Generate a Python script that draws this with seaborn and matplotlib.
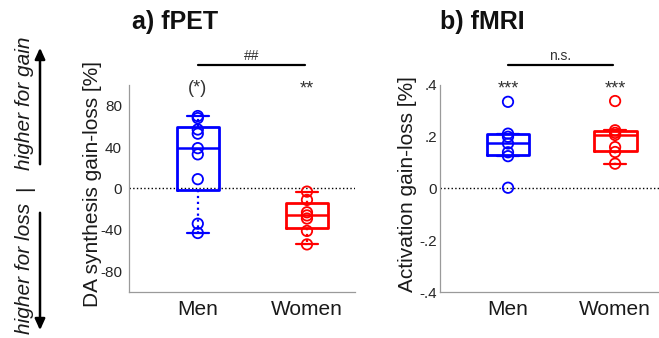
import numpy as np
import pandas as pd
import matplotlib
matplotlib.use("Agg")
import matplotlib.pyplot as plt
import matplotlib.transforms as mtrans
import seaborn as sns

# ---------------- data ----------------
groups = ["Men", "Women"]
colors = ["#0000ff", "#ff0000"]
fpet_men = [70, 68, 57, 53, 39, 33, 9, -34, -43]
fpet_women = [-3, -11, -23, -26, -29, -41, -54]
fmri_men = [0.335, 0.212, 0.200, 0.174, 0.140, 0.125, 0.003]
fmri_women = [0.338, 0.225, 0.215, 0.207, 0.160, 0.141, 0.096]
fpet_stars = ["(*)", "**"]
fmri_stars = ["***", "***"]
fpet_between = "##"
fmri_between = "n.s."
fpet_ticks = list(range(-100, 101, 20))
fpet_ticklabels = ["" if t % 40 or abs(t) == 100 else str(t) for t in fpet_ticks]
fmri_ticks = [-0.4, -0.3, -0.2, -0.1, 0.0, 0.1, 0.2, 0.3, 0.4]
fmri_ticklabels = ["-.4", "", "-.2", "", "0", "", ".2", "", ".4"]

sns.set_style("white")
plt.rcParams["font.family"] = ["Liberation Sans", "DejaVu Sans"]

W, H = 659, 338
fig = plt.figure(figsize=(W / 100, H / 100), dpi=100)


def mprct(x, p):
    x = np.sort(np.asarray(x, float))
    n = len(x)
    pos = (np.arange(1, n + 1) - 0.5) / n * 100
    return float(np.interp(p, pos, x))


def stats(x, label):
    x = np.asarray(x, float)
    q1, med, q3 = mprct(x, 25), mprct(x, 50), mprct(x, 75)
    iqr = q3 - q1
    lo = x[x >= q1 - 1.5 * iqr].min()
    hi = x[x <= q3 + 1.5 * iqr].max()
    return dict(med=med, q1=q1, q3=q3, whislo=lo, whishi=hi, fliers=[], label=label)


def ypx(y):
    return 1 - y / H


def panel(ax, men, women, ylim, ticks, ticklabels, xlim, boxw, ylabel, ylabel_x,
          stars, between, tickpad):
    data = [men, women]
    for i, (d, c) in enumerate(zip(data, colors)):
        ax.bxp([stats(d, groups[i])], positions=[i], widths=boxw,
               capwidths=0.2, showfliers=False, patch_artist=False,
               boxprops=dict(color=c, lw=2.0),
               medianprops=dict(color=c, lw=1.8),
               whiskerprops=dict(color=c, lw=1.6, ls=":"),
               capprops=dict(color=c, lw=1.6), manage_ticks=False, zorder=2)
    df = pd.DataFrame({
        "group": ["Men"] * len(men) + ["Women"] * len(women),
        "value": list(men) + list(women),
    })
    n0 = len(ax.collections)
    sns.stripplot(data=df, x="group", y="value", hue="group", order=groups,
                  palette=dict(zip(groups, colors)), jitter=False, size=7.5,
                  linewidth=1.3, legend=False, ax=ax, zorder=3)
    for coll in ax.collections[n0:]:
        fc = coll.get_facecolors()
        coll.set_edgecolors(fc)
        coll.set_facecolors("none")
        coll.set_linewidth(1.3)
    ax.axhline(0, color="black", lw=1.0, ls=":", zorder=1)
    ax.set_ylim(*ylim)
    ax.set_xlim(*xlim)
    ax.set_yticks(ticks)
    ax.set_yticklabels(ticklabels)
    ax.set_xticks([0, 1])
    ax.set_xticklabels(groups)
    ax.set_xlabel("")
    ax.set_ylabel(ylabel, fontsize=15, color="#1a1a1a")
    ax.yaxis.set_label_coords(ylabel_x, 0.52)
    for s in ["top", "right"]:
        ax.spines[s].set_visible(False)
    for s in ["left", "bottom"]:
        ax.spines[s].set_color("#9a9a9a")
        ax.spines[s].set_linewidth(0.9)
    ax.tick_params(axis="y", direction="in", length=3, color="#9a9a9a",
                   labelsize=11, labelcolor="#262626", pad=tickpad)
    ax.tick_params(axis="x", length=0, labelsize=15, labelcolor="#1a1a1a", pad=6)
    tr = mtrans.blended_transform_factory(ax.transData, fig.transFigure)
    for i, s in enumerate(stars):
        ax.text(i, ypx(93), s, transform=tr, ha="center", va="baseline",
                fontsize=13, color="#333333")
    ax.plot([0, 0.98], [ypx(65), ypx(65)], transform=tr, color="black",
            lw=1.6, clip_on=False)
    ax.text(0.49, ypx(60), between, transform=tr, ha="center", va="baseline",
            fontsize=10, color="#333333")


axL = fig.add_axes([129 / W, 1 - 292 / H, 226 / W, 207 / H])
axR = fig.add_axes([440 / W, 1 - 292 / H, 219 / W, 207 / H])

panel(axL, fpet_men, fpet_women, (-100, 100), fpet_ticks, fpet_ticklabels,
      (-0.63, 1.44), 0.38, "DA synthesis gain-loss [%]", -0.12,
      fpet_stars, fpet_between, 5)
panel(axR, fmri_men, fmri_women, (-0.4, 0.4), fmri_ticks, fmri_ticklabels,
      (-0.635, 1.41), 0.40, "Activation gain-loss [%]", -0.105,
      fmri_stars, fmri_between, 2)

fig.text(175 / W, ypx(22), "a) fPET", ha="center", va="center",
         fontsize=18, fontweight="bold", color="#111111")
fig.text(482 / W, ypx(22), "b) fMRI", ha="center", va="center",
         fontsize=18, fontweight="bold", color="#111111")

# side annotation
fig.text(25 / W, ypx(103), "higher for gain", rotation=90, ha="center",
         va="center", fontsize=15, style="italic", color="#1a1a1a")
fig.text(25 / W, ypx(188), "|", rotation=90, ha="center", va="center",
         fontsize=15, color="#1a1a1a")
fig.text(25 / W, ypx(268), "higher for loss", rotation=90, ha="center",
         va="center", fontsize=15, style="italic", color="#1a1a1a")
arrow = dict(arrowstyle="-|>,head_length=0.55,head_width=0.25", color="black", lw=1.8)
fig.add_artist(matplotlib.patches.FancyArrowPatch(
    (40 / W, ypx(167)), (40 / W, ypx(45)), transform=fig.transFigure,
    mutation_scale=12, **arrow))
fig.add_artist(matplotlib.patches.FancyArrowPatch(
    (40 / W, ypx(210)), (40 / W, ypx(333)), transform=fig.transFigure,
    mutation_scale=12, **arrow))

fig.savefig("out.png", dpi=100)
